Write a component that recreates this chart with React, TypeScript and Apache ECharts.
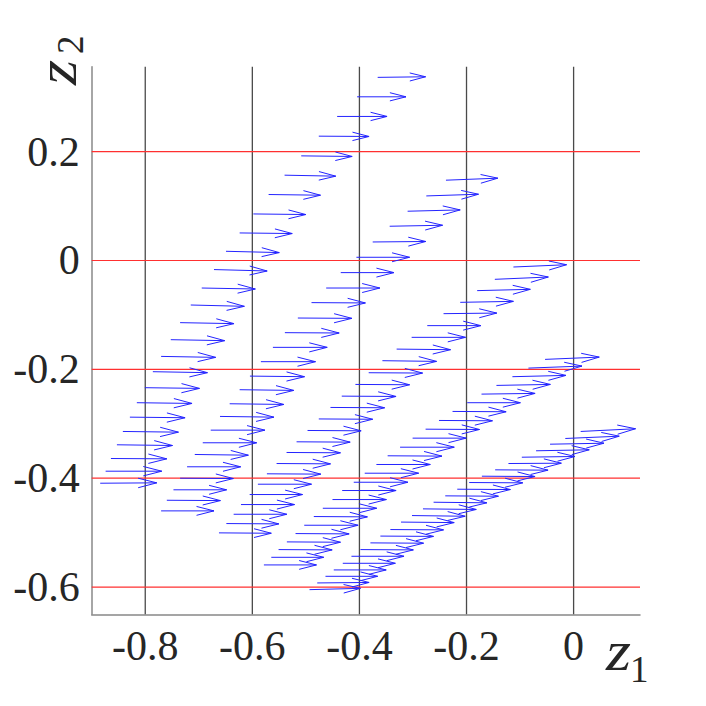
import React, { useEffect, useRef } from 'react';
import * as echarts from 'echarts';

// Tick values
const xTicks = [-0.8, -0.6, -0.4, -0.2, 0];
const yTicks = [-0.6, -0.4, -0.2, 0, 0.2];

// Chain A
const chainAX = [-0.3659, -0.4043, -0.4416, -0.4759, -0.5087, -0.5398, -0.5696, -0.5981, -0.6237, -0.6492, -0.6716, -0.6945, -0.7150, -0.7349, -0.7523, -0.7704, -0.7858, -0.8007, -0.8157, -0.8287, -0.8418, -0.8529, -0.8641, -0.8740, -0.8841];
const chainAY = [0.3364, 0.3007, 0.2646, 0.2284, 0.1922, 0.1567, 0.1212, 0.0855, 0.0506, 0.0169, -0.0167, -0.0506, -0.0818, -0.1142, -0.1455, -0.1762, -0.2043, -0.2337, -0.2613, -0.2878, -0.3141, -0.3386, -0.3638, -0.3871, -0.4092];
const chainAU = [0.0895, 0.0913, 0.0932, 0.0939, 0.0951, 0.0956, 0.0969, 0.0980, 0.0982, 0.0995, 0.0993, 0.1001, 0.1001, 0.1007, 0.1007, 0.1020, 0.1020, 0.1020, 0.1031, 0.1031, 0.1038, 0.1038, 0.1044, 0.1049, 0.1057];
const chainAV = [0.0011, 0, 0, -0.0006, -0.0011, -0.0018, -0.0013, -0.0011, -0.0011, -0.0024, -0.0026, -0.0018, -0.0024, -0.0018, -0.0018, -0.0018, -0.0018, -0.0013, -0.0013, -0.0011, -0.0013, -0.0013, -0.0006, 0, 0.0007];

// Chain B
const chainBX = [-0.2384, -0.2751, -0.3100, -0.3435, -0.3752, -0.4056, -0.4349, -0.4621, -0.4895, -0.5150, -0.5392, -0.5616, -0.5840, -0.6045, -0.6237, -0.6423, -0.6604, -0.6777, -0.6926, -0.7075, -0.7219, -0.7349, -0.7473, -0.7597, -0.7704];
const chainBY = [0.1475, 0.1186, 0.0905, 0.0629, 0.0340, 0.0059, -0.0223, -0.0506, -0.0774, -0.1057, -0.1326, -0.1596, -0.1859, -0.2124, -0.2374, -0.2632, -0.2865, -0.3117, -0.3349, -0.3564, -0.3790, -0.4000, -0.4213, -0.4405, -0.4600];
const chainBU = [0.0969, 0.0975, 0.0982, 0.0988, 0.0992, 0.0993, 0.0995, 0.1003, 0.1007, 0.1010, 0.1014, 0.1014, 0.1020, 0.1020, 0.1012, 0.1012, 0.1007, 0.1012, 0.1007, 0.1001, 0.1001, 0.0995, 0.0993, 0.1001, 0.0988];
const chainBV = [0.0037, 0.0031, 0.0024, 0.0018, 0.0009, 0, 0, 0, -0.0006, -0.0006, -0.0006, 0, 0, -0.0011, -0.0013, -0.0013, -0.0013, 0, 0, -0.0013, 0, -0.0006, 0, -0.0006, 0];

// Chain C
const chainCX = [-0.1124, -0.1471, -0.1801, -0.2117, -0.2429, -0.2733, -0.3025, -0.3305, -0.3571, -0.3827, -0.4075, -0.4330, -0.4541, -0.4759, -0.4969, -0.5174, -0.5361, -0.5547, -0.5728, -0.5896, -0.6050, -0.6212, -0.6349, -0.6485, -0.6623];
const chainCY = [-0.0120, -0.0346, -0.0554, -0.0769, -0.0977, -0.1197, -0.1412, -0.1628, -0.1841, -0.2062, -0.2277, -0.2492, -0.2700, -0.2911, -0.3123, -0.3331, -0.3527, -0.3730, -0.3919, -0.4110, -0.4300, -0.4484, -0.4662, -0.4833, -0.5004];
const chainCU = [0.0993, 0.0999, 0.0993, 0.0993, 0.0995, 0.1001, 0.1007, 0.1007, 0.1012, 0.1007, 0.1012, 0.1014, 0.1012, 0.1007, 0.1001, 0.1001, 0.1007, 0.1007, 0.1007, 0.1001, 0.0988, 0.1001, 0.0993, 0.0980, 0.0977];
const chainCV = [0.0042, 0.0042, 0.0024, 0.0018, 0.0011, 0, 0, -0.0011, -0.0013, -0.0006, -0.0006, -0.0006, -0.0006, -0.0006, -0.0006, -0.0006, -0.0006, -0.0006, -0.0006, 0, 0, 0, 0, -0.0006, -0.0007];

// Chain D
const chainDX = [-0.0533, -0.0844, -0.1143, -0.1441, -0.1720, -0.1987, -0.2261, -0.2514, -0.2764, -0.3007, -0.3241, -0.3473, -0.3683, -0.3901, -0.4106, -0.4322, -0.4503, -0.4684, -0.4852, -0.5031, -0.5193, -0.5355, -0.5510, -0.5646, -0.5784];
const chainDY = [-0.1817, -0.1977, -0.2135, -0.2295, -0.2455, -0.2613, -0.2773, -0.2939, -0.3099, -0.3264, -0.3430, -0.3588, -0.3748, -0.3908, -0.4074, -0.4226, -0.4392, -0.4552, -0.4704, -0.4864, -0.5017, -0.5170, -0.5311, -0.5453, -0.5593];
const chainDU = [0.1012, 0.1001, 0.1001, 0.1007, 0.1001, 0.0993, 0.1001, 0.0999, 0.1007, 0.1001, 0.1012, 0.1014, 0.1007, 0.1007, 0.1012, 0.1007, 0.1007, 0.1007, 0.1001, 0.1007, 0.1001, 0.1001, 0.1001, 0.0980, 0.0982];
const chainDV = [0.0042, 0.0037, 0.0024, 0.0018, 0.0013, 0, -0.0006, -0.0006, -0.0006, 0, 0, -0.0006, 0, 0, 0, 0, 0, 0, -0.0006, 0, -0.0006, -0.0006, -0.0006, 0, 0];

// Chain E
const chainEX = [0.0132, -0.0155, -0.0440, -0.0701, -0.0967, -0.1217, -0.1465, -0.1713, -0.1950, -0.2173, -0.2397, -0.2615, -0.2813, -0.3018, -0.3223, -0.3422, -0.3609, -0.3795, -0.3981, -0.4149, -0.4311, -0.4479, -0.4634, -0.4788, -0.4932];
const chainEY = [-0.3141, -0.3270, -0.3375, -0.3496, -0.3614, -0.3730, -0.3846, -0.3963, -0.4079, -0.4202, -0.4324, -0.4441, -0.4563, -0.4686, -0.4806, -0.4943, -0.5063, -0.5188, -0.5311, -0.5434, -0.5563, -0.5685, -0.5802, -0.5924, -0.6047];
const chainEU = [0.1025, 0.1007, 0.1007, 0.0993, 0.0993, 0.0988, 0.0988, 0.0993, 0.1001, 0.0993, 0.0993, 0.0995, 0.0995, 0.0993, 0.0993, 0.0993, 0.0993, 0.0993, 0.0988, 0.0982, 0.0982, 0.0979, 0.0975, 0.0969, 0.0951];
const chainEV = [0.0050, 0.0042, 0.0018, 0.0018, 0.0013, 0.0006, -0.0006, -0.0006, -0.0006, -0.0006, -0.0007, -0.0011, -0.0011, -0.0013, -0.0009, -0.0006, -0.0006, -0.0006, -0.0006, 0, 0, 0, 0, 0.0009, 0.0024];

const X_MIN = -0.9;
const X_MAX = 0.124;
const Y_MIN = -0.65;
const Y_MAX = 0.356;

const chains = [
  [chainAX, chainAY, chainAU, chainAV],
  [chainBX, chainBY, chainBU, chainBV],
  [chainCX, chainCY, chainCU, chainCV],
  [chainDX, chainDY, chainDU, chainDV],
  [chainEX, chainEY, chainEU, chainEV],
];

const SERIF = '"Liberation Serif", "DejaVu Serif", serif';

export default function App() {
  const ref = useRef<HTMLDivElement>(null);

  useEffect(() => {
    if (!ref.current) return;
    const chart = echarts.init(ref.current, null, { renderer: 'svg' });

    const arrowData: number[][] = [];
    chains.forEach(([xs, ys, us, vs]) => {
      xs.forEach((x, i) => arrowData.push([x, ys[i], us[i], vs[i]]));
    });

    const gridSeries: any[] = [];
    xTicks.forEach((t) => {
      gridSeries.push({
        type: 'line',
        data: [[t, Y_MIN], [t, Y_MAX]],
        symbol: 'none',
        silent: true,
        lineStyle: { color: '#4a4a4a', width: 1.3 },
        z: 1,
      });
    });
    yTicks.forEach((t) => {
      gridSeries.push({
        type: 'line',
        data: [[X_MIN, t], [X_MAX, t]],
        symbol: 'none',
        silent: true,
        lineStyle: { color: '#ff3030', width: 1.2 },
        z: 1,
      });
    });

    const fmt = (ticks: number[]) => (v: number) => {
      const t = ticks.find((k) => Math.abs(k - v) < 1e-6);
      return t === undefined ? '' : String(t);
    };

    const arrowColor = '#2424ff';
    const textColor = '#262626';

    chart.setOption({
      animation: false,
      backgroundColor: '#ffffff',
      grid: { left: 91.7, top: 66.7, width: 548.3, height: 547.6, containLabel: false },
      xAxis: {
        type: 'value',
        min: X_MIN,
        max: X_MAX,
        interval: 0.1,
        axisLine: { show: true, onZero: false, lineStyle: { color: '#888888', width: 1.5 } },
        axisTick: { show: false },
        splitLine: { show: false },
        axisLabel: {
          formatter: fmt(xTicks),
          fontFamily: SERIF,
          fontSize: 42,
          color: textColor,
          margin: 11,
          showMinLabel: true,
          showMaxLabel: true,
        },
      },
      yAxis: {
        type: 'value',
        min: Y_MIN,
        max: Y_MAX,
        interval: 0.05,
        axisLine: { show: true, onZero: false, lineStyle: { color: '#888888', width: 1.5 } },
        axisTick: { show: false },
        splitLine: { show: false },
        axisLabel: {
          formatter: fmt(yTicks),
          fontFamily: SERIF,
          fontSize: 42,
          color: textColor,
          margin: 12,
        },
      },
      series: [
        ...gridSeries,
        {
          type: 'custom',
          data: arrowData,
          dimensions: ['x', 'y', 'u', 'v'],
          encode: { x: 0, y: 1 },
          silent: true,
          z: 3,
          renderItem: (params: any, api: any) => {
            const x = api.value(0);
            const y = api.value(1);
            const u = api.value(2);
            const v = api.value(3);
            const alpha = 0.33;
            const beta = 0.25;
            const p0 = api.coord([x, y]);
            const p1 = api.coord([x + u, y + v]);
            const b1 = api.coord([x + u - alpha * (u + beta * v), y + v - alpha * (v - beta * u)]);
            const b2 = api.coord([x + u - alpha * (u - beta * v), y + v - alpha * (v + beta * u)]);
            return {
              type: 'group',
              children: [
                {
                  type: 'line',
                  shape: { x1: p0[0], y1: p0[1], x2: p1[0], y2: p1[1] },
                  style: { stroke: arrowColor, lineWidth: 1 },
                },
                {
                  type: 'polyline',
                  shape: { points: [b1, p1, b2] },
                  style: { stroke: arrowColor, lineWidth: 1, fill: null },
                },
              ],
            };
          },
        },
      ],
      graphic: [
        {
          type: 'text',
          x: 606,
          y: 679,
          scaleX: 1.15,
          style: {
            text: 'z',
            font: `italic 56px ${SERIF}`,
            fill: textColor,
            textAlign: 'left',
            textVerticalAlign: 'bottom',
            verticalAlign: 'bottom',
          },
        },
        {
          type: 'text',
          x: 630,
          y: 688,
          style: {
            text: '1',
            font: `37px ${SERIF}`,
            fill: textColor,
            textAlign: 'left',
            textVerticalAlign: 'bottom',
            verticalAlign: 'bottom',
          },
        },
        {
          type: 'group',
          x: 76,
          y: 85,
          rotation: Math.PI / 2,
          children: [
            {
              type: 'text',
              x: 0,
              y: 9,
              scaleX: 1.15,
              style: {
                text: 'z',
                font: `italic 56px ${SERIF}`,
                fill: textColor,
                textAlign: 'left',
                textVerticalAlign: 'bottom',
                verticalAlign: 'bottom',
              },
            },
            {
              type: 'text',
              x: 31,
              y: 13,
              style: {
                text: '2',
                font: `37px ${SERIF}`,
                fill: textColor,
                textAlign: 'left',
                textVerticalAlign: 'bottom',
                verticalAlign: 'bottom',
              },
            },
          ],
        },
      ],
    });

    return () => chart.dispose();
  }, []);

  return (
    <div
      ref={ref}
      style={{ position: 'fixed', left: 0, top: 0, width: 706, height: 706, background: '#fff' }}
    />
  );
}
